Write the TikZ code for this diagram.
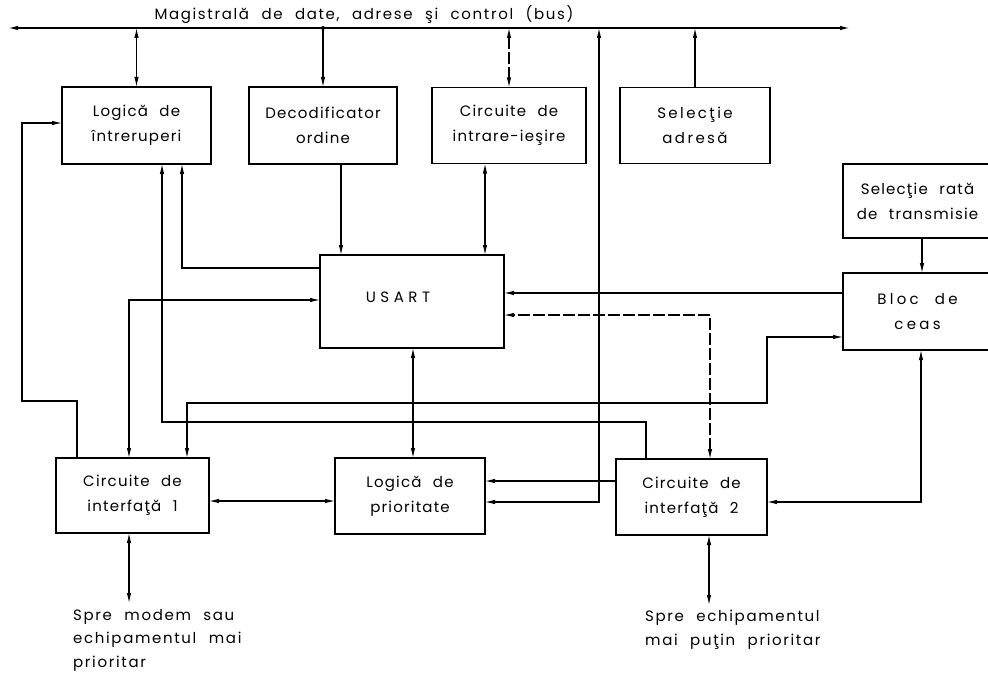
\documentclass[tikz,border=0pt]{standalone}
\usepackage{fontspec}
\setmainfont[LetterSpace=8, WordSpace=2.2]{Poppins}
\usetikzlibrary{arrows.meta,calc}

\tikzset{
  blk/.style={draw, line width=1.8pt, inner sep=0pt, outer sep=0pt, align=center,
    font=\fontsize{15}{25}\selectfont},
  wide/.style={font=\fontsize{15}{25}\selectfont\addfontfeature{LetterSpace=#1}},
  wire/.style={line width=1.1pt},
  tip/.style={-{Latex[length=10pt,width=4.5pt]}},
  both/.style={{Latex[length=10pt,width=4.5pt]}-{Latex[length=10pt,width=4.5pt]}},
  brk/.style={dash pattern=on 12pt off 3pt},
  note/.style={align=left, anchor=north west, inner sep=0pt,
    font=\fontsize{15}{23.5}\selectfont\addfontfeature{LetterSpace=11}},
}

\begin{document}
\begin{tikzpicture}[x=1pt,y=-1pt]
\useasboundingbox (0,0) rectangle (988,674);

% bus
\coordinate (busL) at (8,28);
\coordinate (busR) at (850,28);
\draw[wire, line width=1.4pt, both] (busL) -- (busR);
\node[font=\fontsize{15}{18}\selectfont\addfontfeature{LetterSpace=11}, inner sep=0pt] (buslbl) at (364,15)
  {Magistrală de date, adrese şi control (bus)};

% blocks
\node[blk, minimum width=149pt, minimum height=77pt] (lint) at (136.5,125.5) {Logică de\\întreruperi};
\node[blk, minimum width=148pt, minimum height=77pt] (dec) at (323,125.5) {Decodificator\\ordine};
\node[blk, minimum width=154pt, minimum height=76pt] (io) at (509,125.5) {Circuite de\\intrare-ieşire};
\node[blk, wide=16, minimum width=150pt, minimum height=76pt] (seladr) at (695,125.5) {Selecţie\\adresă};
\node[blk, minimum width=149pt, minimum height=74pt] (selrata) at (917.5,201) {Selecţie rată\\de transmisie};
\node[blk, wide=22, minimum width=149pt, minimum height=77pt] (ceas) at (917.5,311.5) {Bloc de\\ceas};
\node[blk, minimum width=184pt, minimum height=93pt] (usart) at (412,301.5) {};
\node[wide=30, inner sep=0pt] (usartlbl) at (398,297) {USART};
\node[blk, minimum width=153pt, minimum height=75pt] (if1) at (132.5,495.5) {Circuite de\\interfaţă 1};
\node[blk, minimum width=150pt, minimum height=76pt] (prio) at (410,496) {Logică de\\prioritate};
\node[blk, minimum width=151pt, minimum height=76pt] (if2) at (691.5,497) {Circuite de\\interfaţă 2};

% bus connections
\draw[wire, both] (lint.north |- busL) -- (lint.north);
\draw[wire, tip] (dec.north |- busL) -- (dec.north);
\fill (dec.north |- busL) circle (2pt);
\draw[wire, both, brk] (io.north |- busL) -- (io.north);
\draw[wire, tip] (seladr.north) -- (seladr.north |- busL);
\draw[wire, both] (prio.east |- 0,502) -- (599,502) -- (599,28);

% around the USART
\draw[wire, tip] (dec.south -| 341,0) -- (usart.north -| 341,0);
\draw[wire, both] (io.south -| 485,0) -- (usart.north -| 485,0);
\draw[wire, tip] (usart.west |- 0,268) -| (lint.south -| 182,0);
\draw[wire, both] (usart.west |- 0,300) -| (if1.north -| 129,0);
\draw[wire, both] (usart.south -| 413,0) -- (prio.north -| 413,0);
\draw[wire, tip] (ceas.west |- 0,293) -- (usart.east |- 0,293);
\draw[wire, both, brk] (if2.north -| 710,0) -- (710,315) -- (usart.east |- 0,315);

% interrupt requests
\draw[wire, tip] (if1.north -| 77,0) -- (77,401) -- (22,401) -- (22,123) -- (lint.west |- 0,123);
\draw[wire, tip] (if2.north -| 646,0) -- (646,422) -- (162,422) -- (lint.south -| 162,0);

% clock and priority links
\draw[wire, both] (if1.north -| 187,0) -- (187,403) -- (767,403) -- (767,337) -- (ceas.west |- 0,337);
\draw[wire, tip] (selrata.south -| 922,0) -- (ceas.north -| 922,0);
\draw[wire, both] (ceas.south -| 921,0) -- (921,502) -- (if2.east |- 0,502);
\draw[wire, tip] (if2.west |- 0,481) -- (prio.east |- 0,481);
\draw[wire, both] (if1.east |- 0,501) -- (prio.west |- 0,501);

% external links
\coordinate (ext1) at (129,603);
\coordinate (ext2) at (709,605);
\draw[wire, both] (if1.south -| ext1) -- (ext1);
\draw[wire, both] (if2.south -| ext2) -- (ext2);
\node[note] (n1) at (73,609) {Spre modem sau\\echipamentul mai\\prioritar};
\node[note] (n2) at (645,610) {Spre echipamentul\\mai puţin prioritar};
\end{tikzpicture}
\end{document}
